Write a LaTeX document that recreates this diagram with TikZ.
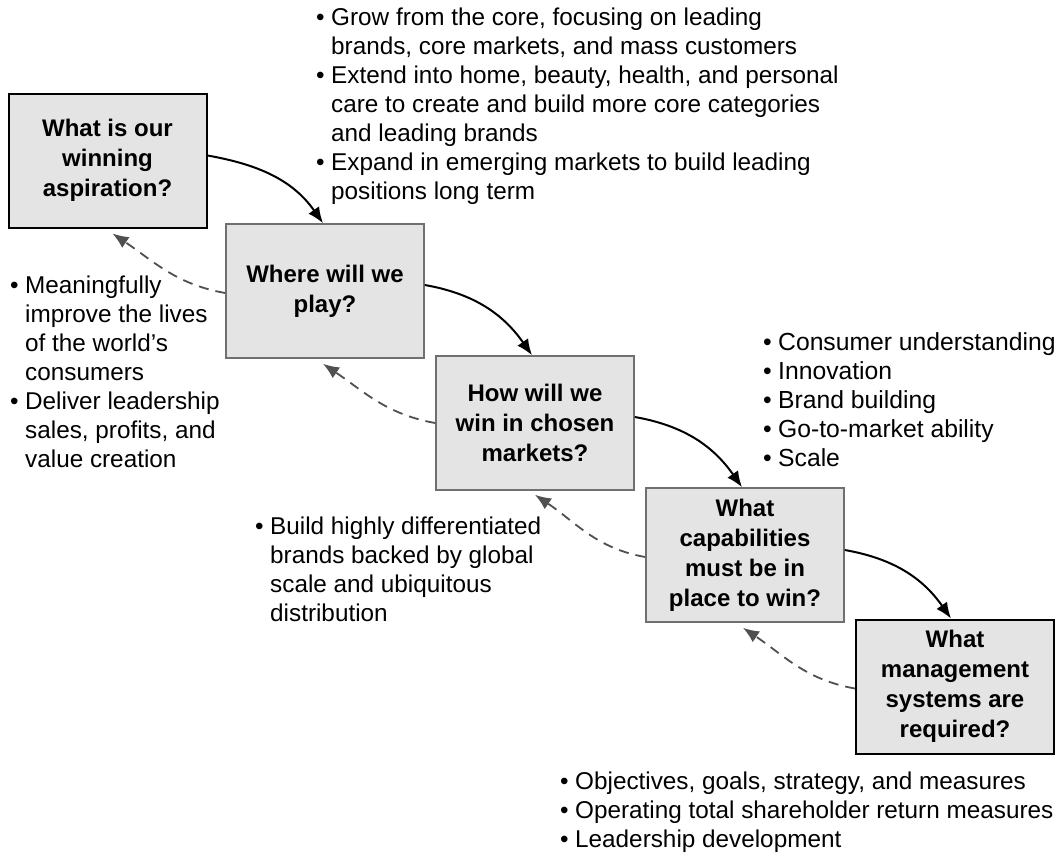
\documentclass[tikz,border=0pt]{standalone}
\usepackage{fontspec}
\setmainfont{Liberation Sans}
\usetikzlibrary{arrows.meta}
\definecolor{boxfill}{HTML}{E4E4E4}
\definecolor{midgray}{HTML}{707070}
\definecolor{dashgray}{HTML}{505050}
\newcommand{\bul}{\makebox[15pt][l]{\textbullet}}
\newcommand{\ind}{\hspace*{15pt}}
\newcommand{\boxfont}{\fontsize{24}{30}\selectfont\bfseries}
\newcommand{\txtfont}{\fontsize{24.3}{29}\selectfont}
\newcommand{\txtfontb}{\fontsize{24.7}{29}\selectfont}
\begin{document}
\begin{tikzpicture}[x=1pt,y=1pt,
  box/.style={draw, fill=boxfill, minimum width=198pt, minimum height=134pt, inner sep=0pt, align=center, font=\boxfont},
  endbox/.style={box, draw=black, line width=2pt},
  midbox/.style={box, draw=midgray, line width=1.6pt},
  txt/.style={anchor=north west, inner sep=0pt, align=left, font=\txtfont},
  fwd/.style={-{Latex[length=16pt,width=13pt]}, line width=2pt, black},
  back/.style={-{Latex[length=16pt,width=13pt]}, line width=1.8pt, dashgray, dash pattern=on 10pt off 7pt}]
\useasboundingbox (0,0) rectangle (1058,-855);
\fill[white] (0,0) rectangle (1058,-855);

\node[endbox] (b1) at (107.5,-160.5) {What is our\\winning\\aspiration?};
\node[midbox] (b2) at (325,-291) {Where will we\\play?};
\node[midbox] (b3) at (535,-423) {How will we\\win in chosen\\markets?};
\node[midbox] (b4) at (745,-555) {What\\capabilities\\must be in\\place to win?};
\node[endbox] (b5) at (955,-686.5) {What\\management\\systems are\\required?};

\draw[fwd] ([yshift=5pt]b1.east) to[out=-10,in=125] ([xshift=-2pt]b2.north);
\draw[fwd] ([yshift=6pt]b2.east) to[out=-10,in=125] ([xshift=-3pt]b3.north);
\draw[fwd] ([yshift=6pt]b3.east) to[out=-10,in=125] ([xshift=-3pt]b4.north);
\draw[fwd] ([yshift=5pt]b4.east) to[out=-10,in=125] ([xshift=-4pt]b5.north);

\draw[back] ([yshift=-2pt]b2.west) to[out=170,in=-34] ([xshift=5pt,yshift=-5pt]b1.south);
\draw[back] (b3.west) to[out=170,in=-34] ([xshift=-2pt,yshift=-5pt]b2.south);
\draw[back] ([yshift=-2pt]b4.west) to[out=170,in=-34] ([yshift=-4pt]b3.south);
\draw[back] ([yshift=-2pt]b5.west) to[out=170,in=-34] ([xshift=-2pt,yshift=-5pt]b4.south);

\node[txt] (t1) at (316,-8) {\bul Grow from the core, focusing on leading\\\ind brands, core markets, and mass customers\\\bul Extend into home, beauty, health, and personal\\\ind care to create and build more core categories\\\ind and leading brands\\\bul Expand in emerging markets to build leading\\\ind positions long term};
\node[txt] (t2) at (10,-276) {\bul Meaningfully\\\ind improve the lives\\\ind of the world’s\\\ind consumers\\\bul Deliver leadership\\\ind sales, profits, and\\\ind value creation};
\node[txt] (t3) at (255,-517) {\bul Build highly differentiated\\\ind brands backed by global\\\ind scale and ubiquitous\\\ind distribution};
\node[txt, font=\txtfontb] (t4) at (763,-332) {\bul Consumer understanding\\\bul Innovation\\\bul Brand building\\\bul Go-to-market ability\\\bul Scale};
\node[txt] (t5) at (560,-772) {\bul Objectives, goals, strategy, and measures\\\bul Operating total shareholder return measures\\\bul Leadership development};
\end{tikzpicture}
\end{document}
